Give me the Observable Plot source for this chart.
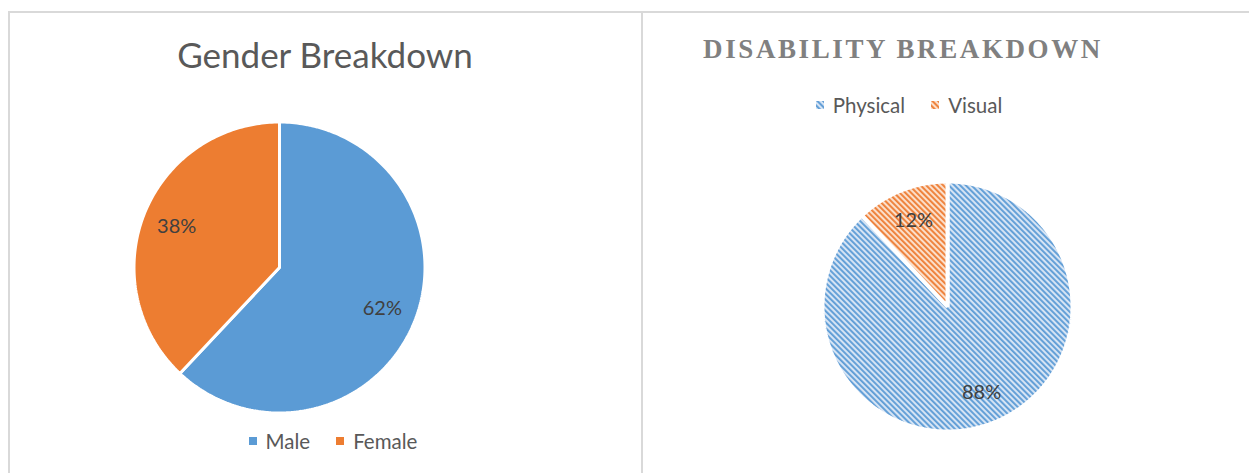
<!DOCTYPE html>
<html>
<head>
<meta charset="utf-8">
<script src="https://cdn.jsdelivr.net/npm/d3@7"></script>
<script src="https://cdn.jsdelivr.net/npm/@observablehq/plot@0.6"></script>
<style>
  html, body { margin: 0; padding: 0; background: #fff; }
  #root { position: relative; width: 1249px; height: 473px; overflow: hidden; background: #fff; font-family: Lato, "Open Sans", sans-serif; }
  .line { position: absolute; background: #d9d9d9; }
  .title1 { position: absolute; left: 9px; width: 632px; top: 33px; text-align: center; font-family: Lato, sans-serif; font-size: 35px; color: #595959; line-height: 42px; }
  .title2 { position: absolute; left: 643px; width: 520px; top: 32px; text-align: center; font-family: "Liberation Serif", serif; font-weight: bold; font-size: 27px; letter-spacing: 2.6px; color: #808080; line-height: 34px; }
  .legend { position: absolute; display: flex; justify-content: center; align-items: center; gap: 26px; font-family: Lato, sans-serif; font-size: 20.5px; color: #595959; }
  .legend .item { display: flex; align-items: center; gap: 9px; }
  .plot { position: absolute; }
</style>
</head>
<body>
<svg width="0" height="0" style="position:absolute">
  <defs>
    <pattern id="patBlue" patternUnits="userSpaceOnUse" width="4" height="4" patternTransform="rotate(-45)">
      <rect width="4" height="4" fill="#d6e4f4"></rect>
      <rect width="1.9" height="4" fill="#5f9dd6"></rect>
    </pattern>
    <pattern id="patOrange" patternUnits="userSpaceOnUse" width="4" height="4" patternTransform="rotate(-45)">
      <rect width="4" height="4" fill="#fbdfcb"></rect>
      <rect width="1.9" height="4" fill="#ee8038"></rect>
    </pattern>
  </defs>
</svg>
<div id="root">
  <div class="line" style="left:9px; top:11px; width:1240px; height:2px;"></div>
  <div class="line" style="left:8px; top:11px; width:2px; height:462px;"></div>
  <div class="line" style="left:641px; top:11px; width:2px; height:462px;"></div>
  <div class="title1">Gender Breakdown</div>
  <div class="title2">DISABILITY BREAKDOWN</div>
</div>
<script>
// ---- data ----
const genderNames = ["Male", "Female"];
const genderValues = [62, 38];
const genderColors = ["#5b9bd5", "#ed7d31"];

const disabilityNames = ["Physical", "Visual"];
const disabilityValues = [88, 12];
const disabilityColors = ["url(#patBlue)", "url(#patOrange)"];

// ---- helpers ----
function slices(names, values) {
  const arcs = d3.pie().sort(null).value(d => d)(values);
  const pts = [];
  const labels = [];
  arcs.forEach((a, i) => {
    const name = names[i];
    pts.push({name, x: 0, y: 0});
    const n = Math.max(2, Math.ceil((a.endAngle - a.startAngle) / (2 * Math.PI) * 360));
    for (let k = 0; k <= n; k++) {
      const t = a.startAngle + (a.endAngle - a.startAngle) * k / n;
      pts.push({name, x: Math.sin(t), y: Math.cos(t)});
    }
    const m = (a.startAngle + a.endAngle) / 2;
    labels.push({name, x: Math.sin(m), y: Math.cos(m), text: values[i] + "%"});
  });
  return {pts, labels};
}

function pie({names, values, colors, width, height, cx, cy, r, gap, labelK}) {
  const {pts, labels} = slices(names, values);
  labels.forEach(d => { d.x *= labelK; d.y *= labelK; });
  return Plot.plot({
    width, height, margin: 0,
    x: {domain: [-1, 1], range: [cx - r, cx + r], axis: null},
    y: {domain: [-1, 1], range: [cy + r, cy - r], axis: null},
    color: {domain: names, range: colors},
    style: {background: "transparent", overflow: "visible"},
    marks: [
      Plot.line(pts, {x: "x", y: "y", z: "name", fill: "name", stroke: "white", strokeWidth: gap, curve: "linear-closed", strokeLinejoin: "miter"}),
      Plot.text(labels, {x: "x", y: "y", text: "text", fontSize: 20, fill: "#404040", fontFamily: "Lato, sans-serif"})
    ]
  });
}

function legend(names, colors, left, top, width) {
  const div = document.createElement("div");
  div.className = "legend";
  div.style.left = left + "px";
  div.style.top = top + "px";
  div.style.width = width + "px";
  names.forEach((n, i) => {
    const item = document.createElement("span");
    item.className = "item";
    item.innerHTML = `<svg width="8" height="8"><rect width="8" height="8" fill="${colors[i]}"></rect></svg><span>${n}</span>`;
    div.appendChild(item);
  });
  return div;
}

const root = document.getElementById("root");

// Left chart
const p1 = pie({names: genderNames, values: genderValues, colors: genderColors,
  width: 630, height: 305, cx: 269, cy: 152, r: 145.5, gap: 3, labelK: 0.76});
p1.classList.add("plot");
p1.style.left = "10px"; p1.style.top = "115px";
root.appendChild(p1);
root.appendChild(legend(genderNames, genderColors, 9, 429, 648));

// Right chart
const p2 = pie({names: disabilityNames, values: disabilityValues, colors: disabilityColors,
  width: 606, height: 262, cx: 304, cy: 131, r: 125, gap: 4, labelK: 0.74});
p2.classList.add("plot");
p2.style.left = "643px"; p2.style.top = "175px";
root.appendChild(p2);
root.appendChild(legend(disabilityNames, disabilityColors, 643, 93, 532));
</script>
</body>
</html>
